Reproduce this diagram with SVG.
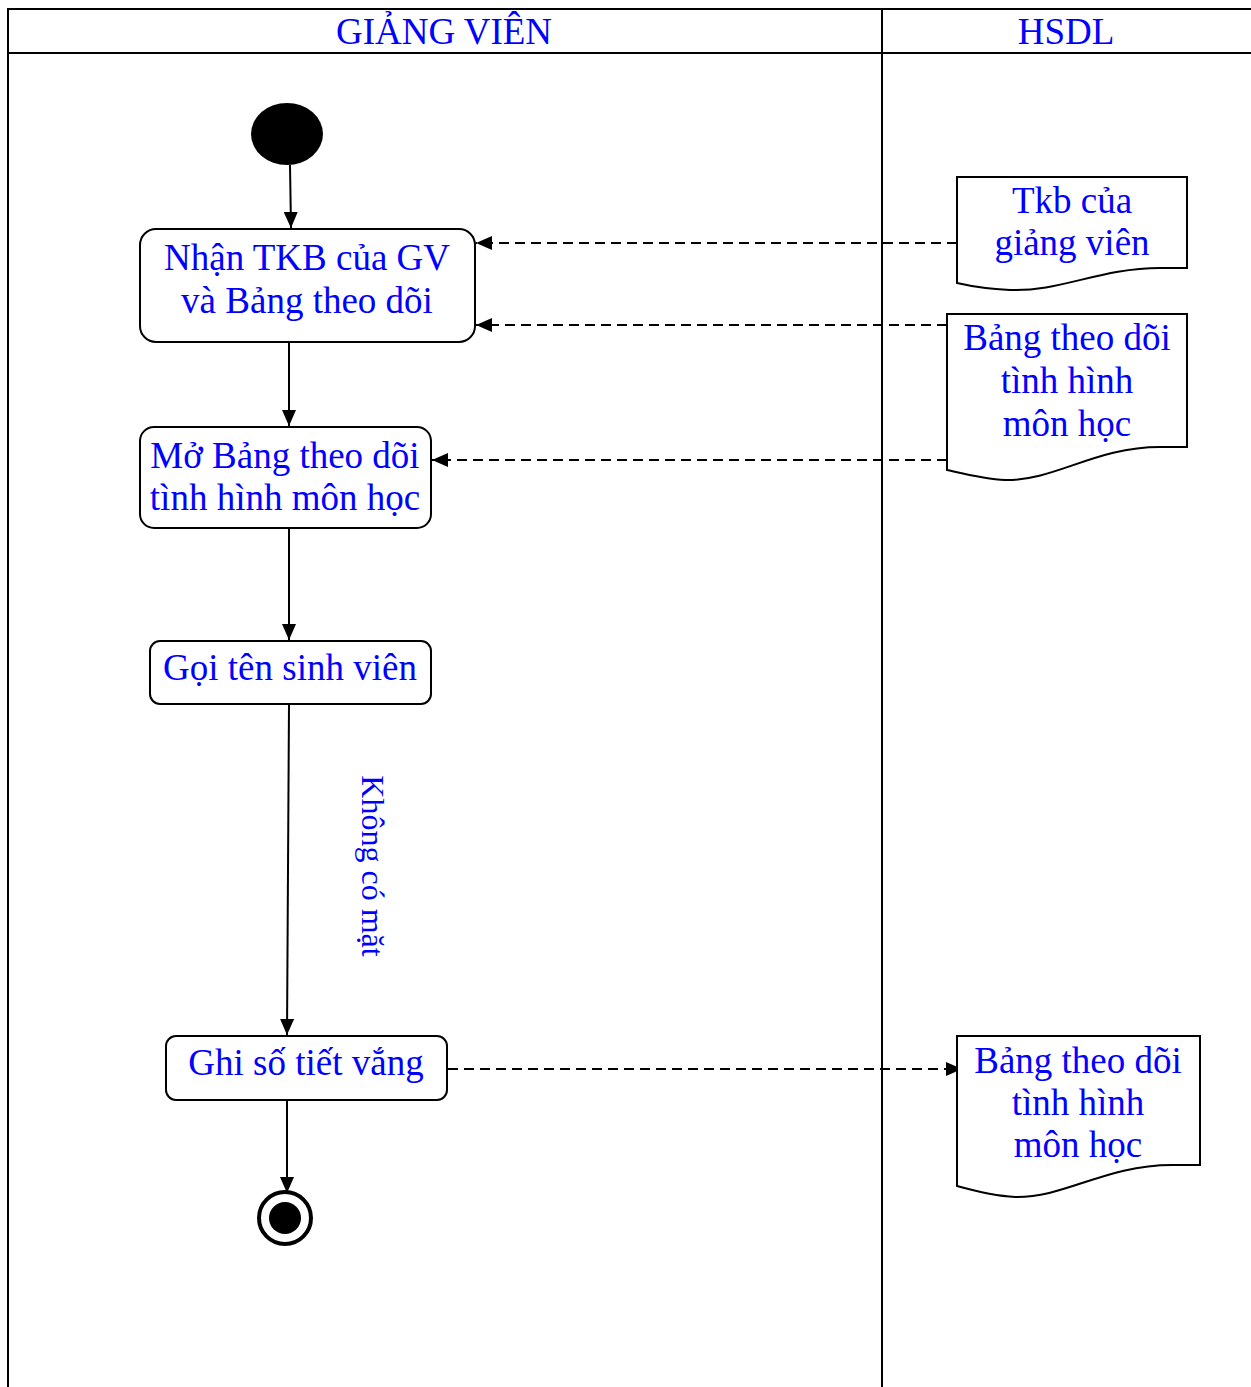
<svg xmlns="http://www.w3.org/2000/svg" width="1251" height="1387" viewBox="0 0 1251 1387">
  <style>
    .lane { fill: none; stroke: #000; stroke-width: 2; }
    .node { fill: #fff; stroke: #000; stroke-width: 2; }
    .doc { fill: #fff; stroke: #000; stroke-width: 2; }
    .t { font-family: "Liberation Serif", "Times New Roman", serif; font-size: 37px; fill: #0000ff; text-anchor: middle; }
    .guard { font-size: 32px; }
    .flow { fill: none; stroke: #000; stroke-width: 2; }
    .data { fill: none; stroke: #000; stroke-width: 2; stroke-dasharray: 10 6; }
  </style>
  <defs>
    <marker id="arrow" viewBox="0 0 16 14" refX="16" refY="7" markerWidth="16" markerHeight="14" markerUnits="userSpaceOnUse" orient="auto">
      <path d="M0,0 L16,7 L0,14 Z" fill="#000"/>
    </marker>
  </defs>
  <rect width="1251" height="1387" fill="#fff"/>

  <!-- swimlanes -->
  <g id="lanes">
    <path class="lane" d="M1251,9 H8 V1387 M8,53 H1251 M882,9 V1387"/>
    <text class="t" x="444" y="44">GIẢNG VIÊN</text>
    <text class="t" x="1066" y="44">HSDL</text>
  </g>

  <!-- connectors -->
  <g id="connectors">
    <path class="flow" d="M290,165 L291,228" marker-end="url(#arrow)"/>
    <path class="flow" d="M289,342 L289,426" marker-end="url(#arrow)"/>
    <path class="flow" d="M289,528 L289,640" marker-end="url(#arrow)"/>
    <path class="flow" d="M289,704 L287,1035" marker-end="url(#arrow)"/>
    <path class="flow" d="M287,1100 L287,1193" marker-end="url(#arrow)"/>
    <path class="data" d="M957,243 L476,243" marker-end="url(#arrow)"/>
    <path class="data" d="M947,325 L476,325" marker-end="url(#arrow)"/>
    <path class="data" d="M947,460 L432,460" marker-end="url(#arrow)"/>
    <path class="data" d="M448,1069 L962,1069" marker-end="url(#arrow)"/>
    <text class="t guard" transform="translate(362,866) rotate(90)">Không có mặt</text>
  </g>

  <g id="start">
    <ellipse cx="287" cy="134" rx="36" ry="31" fill="#000"/>
  </g>

  <g id="nhan-tkb">
    <rect class="node" x="140" y="229" width="335" height="113" rx="16"/>
    <text class="t" x="307" y="270">Nhận TKB của GV</text>
    <text class="t" x="307" y="313">và Bảng theo dõi</text>
  </g>

  <g id="mo-bang">
    <rect class="node" x="140" y="427" width="291" height="101" rx="14"/>
    <text class="t" x="285" y="468">Mở Bảng theo dõi</text>
    <text class="t" x="285" y="510">tình hình môn học</text>
  </g>

  <g id="goi-ten">
    <rect class="node" x="150" y="641" width="281" height="63" rx="10"/>
    <text class="t" x="290" y="680">Gọi tên sinh viên</text>
  </g>

  <g id="ghi-so">
    <rect class="node" x="166" y="1036" width="281" height="64" rx="10"/>
    <text class="t" x="306" y="1075">Ghi số tiết vắng</text>
  </g>

  <g id="end">
    <circle cx="285" cy="1218" r="26" fill="#fff" stroke="#000" stroke-width="4"/>
    <circle cx="285" cy="1218" r="16" fill="#000"/>
  </g>

  <g id="tkb-doc">
    <path class="doc" d="M957,177 H1187 V268 H1160 C1100,268 1060,292 1010,290 C990,289 970,286 957,283 Z"/>
    <text class="t" x="1072" y="213">Tkb của</text>
    <text class="t" x="1072" y="255">giảng viên</text>
  </g>

  <g id="bang-doc-in">
    <path class="doc" d="M947,314 H1187 V447 H1160 C1095,447 1055,481 1005,480 C985,479 965,474 947,470 Z"/>
    <text class="t" x="1067" y="350">Bảng theo dõi</text>
    <text class="t" x="1067" y="393">tình hình</text>
    <text class="t" x="1067" y="436">môn học</text>
  </g>

  <g id="bang-doc-out">
    <path class="doc" d="M957,1036 H1200 V1165 H1172 C1105,1165 1065,1198 1015,1197 C995,1196 975,1191 957,1186 Z"/>
    <text class="t" x="1078" y="1073">Bảng theo dõi</text>
    <text class="t" x="1078" y="1115">tình hình</text>
    <text class="t" x="1078" y="1157">môn học</text>
  </g>
</svg>
